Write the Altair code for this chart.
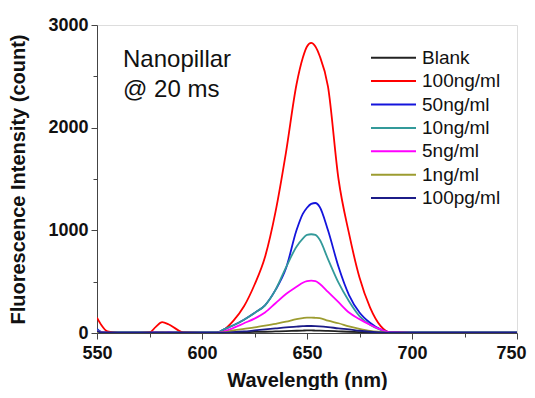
import altair as alt
import pandas as pd

wavelength = [550, 552, 555, 560, 570, 575, 578, 581, 584, 588, 591, 600, 607, 610, 615,
              620, 625, 630, 635, 640, 645, 648, 650, 652, 654, 656, 660, 665, 670, 675,
              680, 685, 690, 700, 710, 720, 730, 740, 750]

series_names = ["Blank", "100ng/ml", "50ng/ml", "10ng/ml", "5ng/ml", "1ng/ml", "100pg/ml"]
series_colors = ["#222222", "#FF0000", "#1414DC", "#339A9A", "#FF00FF", "#9C9C30", "#1C1C88"]

blank = [10, 5, 5, 5, 5, 5, 5, 5, 5, 5, 5, 5, 5, 5, 6, 8, 10, 12, 15, 18, 22, 24, 25, 25, 24,
         23, 20, 16, 12, 9, 7, 6, 5, 5, 5, 5, 5, 5, 5]
ng100 = [150, 80, 15, 2, 2, 5, 60, 105, 85, 35, 5, 2, 2, 25, 120, 260, 470, 740, 1180, 1760,
         2420, 2680, 2790, 2825, 2790, 2700, 2400, 1500, 970, 540, 250, 70, 5, 2, 2, 2, 2, 2, 2]
ng50 = [40, 10, 3, 3, 3, 3, 5, 8, 5, 3, 3, 3, 3, 30, 75, 130, 195, 270, 420, 630, 1000, 1160,
        1220, 1258, 1266, 1230, 1000, 645, 370, 200, 100, 35, 5, 3, 3, 3, 3, 3, 3]
ng10 = [30, 8, 3, 3, 3, 3, 4, 6, 4, 3, 3, 3, 3, 30, 75, 130, 195, 270, 420, 640, 840, 920,
        955, 962, 955, 910, 720, 490, 310, 165, 80, 30, 5, 3, 3, 3, 3, 3, 3]
ng5 = [20, 5, 2, 2, 2, 2, 3, 4, 3, 2, 2, 2, 2, 12, 50, 95, 140, 200, 290, 380, 450, 490, 505,
       510, 505, 480, 400, 300, 200, 135, 80, 35, 5, 2, 2, 2, 2, 2, 2]
ng1 = [10, 3, 2, 2, 2, 2, 2, 3, 2, 2, 2, 2, 2, 5, 25, 40, 55, 72, 90, 110, 135, 145, 150, 150,
       148, 145, 120, 95, 65, 40, 20, 10, 2, 2, 2, 2, 2, 2, 2]
pg100 = [20, 5, 3, 3, 3, 3, 3, 3, 3, 3, 3, 3, 3, 3, 8, 15, 25, 35, 45, 55, 62, 66, 68, 68, 67,
         65, 58, 45, 35, 22, 12, 5, 3, 3, 3, 3, 3, 3, 3]

x_ticks = [550, 575, 600, 625, 650, 675, 700, 725, 750]
y_ticks = [0, 500, 1000, 1500, 2000, 2500, 3000]

all_series = [blank, ng100, ng50, ng10, ng5, ng1, pg100]
rows = []
for k, (name, vals) in enumerate(zip(series_names, all_series)):
    for i, (w, v) in enumerate(zip(wavelength, vals)):
        rows.append({"wl": w, "val": v, "series": name, "order": k, "idx": i})
df = pd.DataFrame(rows)
legend_df = pd.DataFrame({"series": series_names})

FONT = "Liberation Sans"
color_scale = alt.Scale(domain=series_names, range=series_colors)

lines = alt.Chart(df).mark_line(strokeWidth=1.8, clip=True, interpolate="monotone").encode(
    x=alt.X("wl:Q", scale=alt.Scale(domain=[550, 750], nice=False),
            axis=alt.Axis(title="Wavelength (nm)", values=x_ticks,
                          labelExpr="datum.value % 50 === 0 ? datum.label : ''",
                          tickSize={"condition": {"test": "datum.value % 50 === 0", "value": 6}, "value": 4},
                          labelOffset={"condition": {"test": "datum.value === 750", "value": -6}, "value": 0},
                          grid=False, labelFontSize=18, labelFontWeight="bold",
                          titleFontSize=20, titleFontWeight="bold", titlePadding=8,
                          labelPadding=5, domainColor="#444", tickColor="#444",
                          labelColor="#111", titleColor="#111", labelFlush=False)),
    y=alt.Y("val:Q", scale=alt.Scale(domain=[0, 3000], nice=False),
            axis=alt.Axis(title="Fluorescence Intensity (count)", values=y_ticks,
                          labelExpr="datum.value % 1000 === 0 ? datum.label : ''",
                          tickSize={"condition": {"test": "datum.value % 1000 === 0", "value": 6}, "value": 4},
                          format="d",
                          grid=False, labelFontSize=18, labelFontWeight="bold",
                          titleFontSize=20, titleFontWeight="bold", titlePadding=19,
                          labelPadding=3, domainColor="#444", tickColor="#444",
                          labelColor="#111", titleColor="#111")),
    color=alt.Color("series:N", sort=series_names, scale=color_scale, legend=None),
    detail="series:N",
    order=alt.Order("idx:Q"),
)

leg_y = alt.Y("series:N", sort=series_names,
              scale=alt.Scale(type="point", domain=series_names, range=[32.7, 173.1], padding=0),
              axis=None)

leg_rules = alt.Chart(legend_df).mark_rule(strokeWidth=2).encode(
    x=alt.value(274), x2=alt.value(319), y=leg_y,
    color=alt.Color("series:N", scale=color_scale, legend=None),
)
leg_text = alt.Chart(legend_df).mark_text(
    align="left", baseline="middle", fontSize=19, font=FONT, color="#111"
).encode(x=alt.value(325), y=leg_y, text="series:N")

label = alt.Chart(pd.DataFrame({"t": [["Nanopillar", "@ 20 ms"]]})).mark_text(
    align="left", baseline="middle", fontSize=24, font=FONT, color="#111", lineHeight=30
).encode(x=alt.value(26), y=alt.value(35), text="t")

chart = alt.layer(lines, leg_rules, leg_text, label).resolve_scale(y="independent").properties(
    width=420, height=308,
    padding={"left": 89, "top": 17, "right": 10, "bottom": 57},
    autosize=alt.AutoSizeParams(type="none"),
).configure_view(stroke="#444", strokeWidth=1.5).configure(font=FONT)

chart.save("out.html", embed_options={"renderer": "svg", "actions": False})
